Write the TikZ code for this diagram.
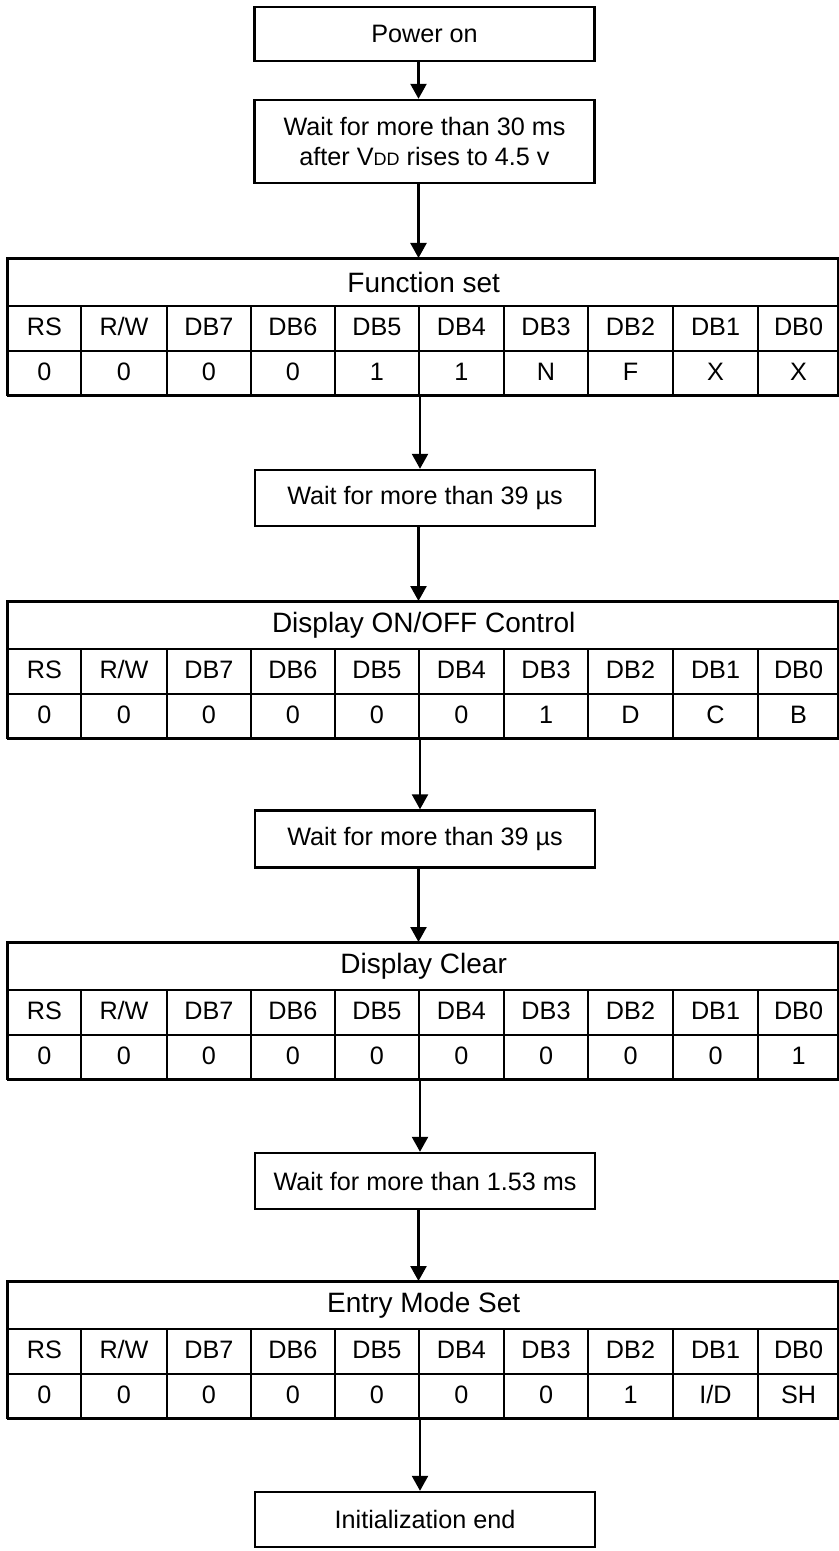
\documentclass[tikz,border=0pt]{standalone}
\usepackage{fontspec}
\setmainfont{Liberation Sans}
\usetikzlibrary{arrows.meta}
\tikzset{
  base/.style={draw, line width=1pt, inner sep=0pt, font=\fontsize{12.6pt}{15pt}\selectfont, align=center},
  flowbox/.style={base, line width=1.2pt, minimum width=170pt},
  titlebox/.style={base, line width=1.2pt, minimum width=415.5pt, minimum height=23.5pt, anchor=north west, font=\fontsize{14pt}{16pt}\selectfont},
  cell/.style={base, minimum height=22.5pt, anchor=north west, text height=9.2pt, text depth=2.6pt},
  arr/.style={line width=1.2pt, -{Triangle[width=8pt,length=7.5pt]}}
}
\def\colx{{7,80,166,250,334,418,503,587,672,757,838}}
\newcommand\bittab[4]{%
  \node[titlebox] (#1) at (7,#2) {#3};
  \foreach \i/\h/\v in {#4}{
    \pgfmathsetmacro\xa{\colx[\i]}
    \pgfmathsetmacro\xb{\colx[\i+1]}
    \pgfmathsetmacro\cw{(\xb-\xa)/2}
    \node[cell, minimum width=\cw pt] (#1h\i) at (\xa,{#2+47}) {\h};
    \node[cell, minimum width=\cw pt] (#1v\i) at (\xa,{#2+92}) {\v};
  }
  \draw[line width=1.2pt] (7,#2) rectangle (838,{#2+137});
}
\begin{document}
\begin{tikzpicture}[x=0.5pt,y=-0.5pt]
\useasboundingbox (0,0) rectangle (839,1551);
\coordinate (ax) at (418.5,0);

\node[flowbox, minimum height=27pt] (pwr) at (424.5,34) {Power on};
\node[flowbox, minimum height=41.5pt] (w30) at (424.5,141.5) {Wait for more than 30 ms\\after V{\fontsize{9pt}{10pt}\selectfont DD} rises to 4.5 v};

\bittab{fs}{258}{Function set}{0/RS/0, 1/{R/W}/0, 2/DB7/0, 3/DB6/0, 4/DB5/1, 5/DB4/1, 6/DB3/N, 7/DB2/F, 8/DB1/X, 9/DB0/X}

\node[flowbox, minimum height=28pt] (wa) at (425,498) {Wait for more than 39 µs};

\bittab{dc}{601}{Display ON/OFF Control}{0/RS/0, 1/{R/W}/0, 2/DB7/0, 3/DB6/0, 4/DB5/0, 5/DB4/0, 6/DB3/1, 7/DB2/D, 8/DB1/C, 9/DB0/B}

\node[flowbox, minimum height=28.5pt] (wb) at (425,839) {Wait for more than 39 µs};

\bittab{cl}{942}{Display Clear}{0/RS/0, 1/{R/W}/0, 2/DB7/0, 3/DB6/0, 4/DB5/0, 5/DB4/0, 6/DB3/0, 7/DB2/0, 8/DB1/0, 9/DB0/1}

\node[flowbox, minimum height=28pt] (wc) at (425,1181) {Wait for more than 1.53 ms};

\bittab{em}{1281}{Entry Mode Set}{0/RS/0, 1/{R/W}/0, 2/DB7/0, 3/DB6/0, 4/DB5/0, 5/DB4/0, 6/DB3/0, 7/DB2/1, 8/DB1/{I/D}, 9/DB0/SH}

\node[flowbox, minimum height=27.5pt] (end) at (425,1519.5) {Initialization end};

\draw[arr] (ax |- pwr.south) -- (ax |- w30.north);
\draw[arr] (ax |- w30.south) -- (ax |- fs.north);
\draw[arr] (fsv4.south east) -- (fsv4.south east |- wa.north);
\draw[arr] (ax |- wa.south) -- (ax |- dc.north);
\draw[arr] (dcv4.south east) -- (dcv4.south east |- wb.north);
\draw[arr] (ax |- wb.south) -- (ax |- cl.north);
\draw[arr] (clv4.south east) -- (clv4.south east |- wc.north);
\draw[arr] (ax |- wc.south) -- (ax |- em.north);
\draw[arr] (emv4.south east) -- (emv4.south east |- end.north);
\end{tikzpicture}
\end{document}
